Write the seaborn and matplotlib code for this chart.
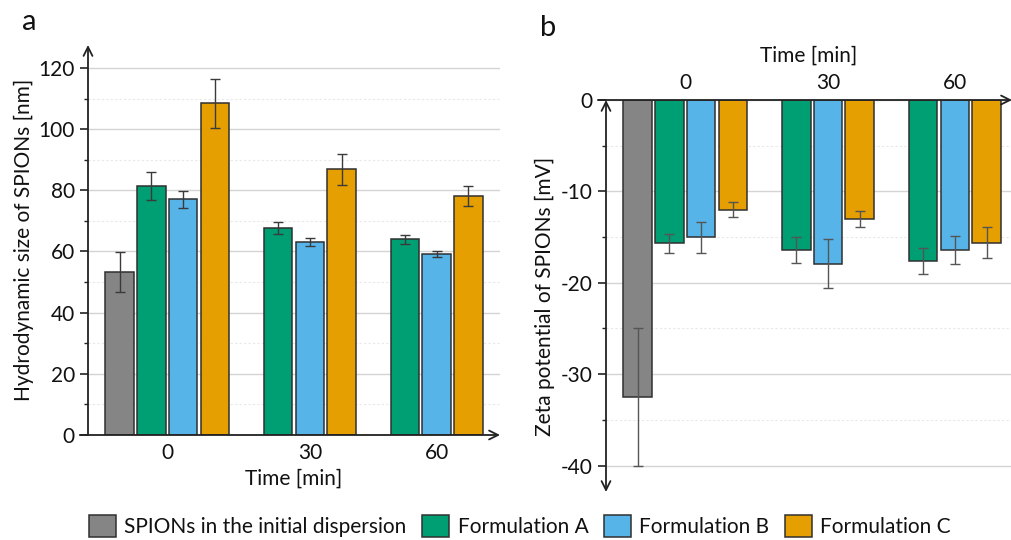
import numpy as np
import pandas as pd
import matplotlib
matplotlib.use("Agg")
import matplotlib.pyplot as plt
import seaborn as sns
from matplotlib.patches import Patch
from matplotlib.ticker import MultipleLocator

sns.set_theme(style="white")
plt.rcParams['font.family'] = ['Lato', 'DejaVu Sans']

# ---------------- data ----------------
times = ["0", "30", "60"]
series = ["SPIONs in the initial dispersion", "Formulation A", "Formulation B", "Formulation C"]
colors = ["#858585", "#009E73", "#56B4E9", "#E69F00"]

# hydrodynamic size [nm]  (None = not measured)
size_mean = {
    "SPIONs in the initial dispersion": [53.3, None, None],
    "Formulation A": [81.4, 67.6, 64.0],
    "Formulation B": [77.0, 63.0, 59.2],
    "Formulation C": [108.4, 86.9, 78.2],
}
size_err = {
    "SPIONs in the initial dispersion": [6.5, None, None],
    "Formulation A": [4.7, 2.0, 1.4],
    "Formulation B": [2.8, 1.3, 0.9],
    "Formulation C": [8.0, 5.1, 3.2],
}
# zeta potential [mV]
zeta_mean = {
    "SPIONs in the initial dispersion": [-32.5, None, None],
    "Formulation A": [-15.7, -16.4, -17.6],
    "Formulation B": [-15.0, -17.9, -16.4],
    "Formulation C": [-12.0, -13.0, -15.6],
}
zeta_err = {
    "SPIONs in the initial dispersion": [7.6, None, None],
    "Formulation A": [1.0, 1.4, 1.4],
    "Formulation B": [1.7, 2.7, 1.5],
    "Formulation C": [0.8, 0.9, 1.7],
}


def build(mean, err):
    rows = []
    for g, t in enumerate(times):
        for s, name in enumerate(series):
            m = mean[name][g]
            if m is None:
                continue
            rows.append(dict(time=t, series=name, pos=g * len(series) + s,
                             value=m, err=err[name][g]))
    return pd.DataFrame(rows)


df_size = build(size_mean, size_err)
df_zeta = build(zeta_mean, zeta_err)
palette = dict(zip(series, colors))

fig = plt.figure(figsize=(10.11, 5.40), dpi=100)
axA = fig.add_axes([88 / 1011, (540 - 435) / 540, 412 / 1011, 390 / 540])
axB = fig.add_axes([606 / 1011, (540 - 492) / 540, 406 / 1011, 392 / 540])

TXT = "#111111"
FS = 15


def draw(ax, df, ecolor):
    sns.barplot(data=df, x="pos", y="value", hue="series", palette=palette,
                hue_order=series, native_scale=True, dodge=False, width=0.9,
                saturation=1, edgecolor="#303030", linewidth=1.1, errorbar=None,
                legend=False, ax=ax, zorder=3)
    ax.errorbar(df["pos"], df["value"], yerr=df["err"], fmt="none",
                ecolor=ecolor, elinewidth=1.0, capsize=3.5, capthick=1.0, zorder=4)
    centers = df.groupby("time", sort=False)["pos"].mean()
    ax.set_xticks(centers.values)
    ax.set_xticklabels(centers.index, fontsize=FS, color=TXT)
    for sp in ax.spines.values():
        sp.set_visible(False)
    ax.tick_params(axis="x", length=0, pad=6)
    ax.tick_params(axis="y", which="major", length=6, width=1.2, color="#222222",
                   direction="out", labelsize=FS, labelcolor=TXT, left=True)
    ax.tick_params(axis="y", which="minor", length=3, width=1.0, color="#222222",
                   direction="out", left=True)
    ax.grid(False)
    ax.yaxis.grid(True, which="major", color="#d4d4d4", linewidth=1.0, zorder=0)
    ax.yaxis.grid(True, which="minor", color="#e8e8e8", linewidth=0.8,
                  linestyle=(0, (2, 2)), zorder=0)
    ax.set_axisbelow(True)


# ---------------- panel a ----------------
draw(axA, df_size, "#3a3a3a")
axA.set_xlim(-1, 12)
axA.set_ylim(0, 127.5)
axA.yaxis.set_major_locator(MultipleLocator(20))
axA.yaxis.set_minor_locator(MultipleLocator(10))
axA.set_xlabel("Time [min]", fontsize=FS, color=TXT, labelpad=4)
axA.set_ylabel("Hydrodynamic size of SPIONs [nm]", fontsize=FS, color=TXT, labelpad=3)
arrow = dict(arrowstyle="->", color="#222222", lw=1.3, mutation_scale=16,
             shrinkA=0, shrinkB=0)
axA.annotate("", xy=(0, 1), xytext=(0, 0), xycoords="axes fraction",
             arrowprops=arrow, annotation_clip=False, zorder=6)
axA.annotate("", xy=(1, 0), xytext=(-0.02, 0), xycoords="axes fraction",
             arrowprops=arrow, annotation_clip=False, zorder=6)

# ---------------- panel b ----------------
draw(axB, df_zeta, "#555555")
axB.set_xlim(-1, 11.8)
axB.set_ylim(-42.9, 0)
axB.yaxis.set_major_locator(MultipleLocator(10))
axB.yaxis.set_minor_locator(MultipleLocator(5))
axB.xaxis.set_ticks_position("top")
axB.xaxis.set_label_position("top")
axB.tick_params(axis="x", pad=5)
axB.set_xlabel("Time [min]", fontsize=FS, color=TXT, labelpad=8)
axB.set_ylabel("Zeta potential of SPIONs [mV]", fontsize=FS, color=TXT, labelpad=4)
axB.yaxis.set_major_formatter(matplotlib.ticker.FuncFormatter(lambda v, p: f"{v:.0f}".replace("\u2212", "-")))
arrow2 = dict(arrowstyle="<->", color="#222222", lw=1.3, mutation_scale=16,
              shrinkA=0, shrinkB=0)
axB.annotate("", xy=(0, 0), xytext=(0, 1), xycoords="axes fraction",
             arrowprops=arrow2, annotation_clip=False, zorder=6)
axB.annotate("", xy=(1, 1), xytext=(-0.02, 1), xycoords="axes fraction",
             arrowprops=arrow, annotation_clip=False, zorder=6)

# panel letters
fig.text(22 / 1011, 1 - 22 / 540, "a", fontsize=21, color=TXT, va="center", ha="left")
fig.text(540 / 1011, 1 - 28 / 540, "b", fontsize=21, color=TXT, va="center", ha="left")

# legend
handles = [Patch(facecolor=c, edgecolor="#303030", linewidth=1.1) for c in colors]
fig.legend(handles, series, loc="center", bbox_to_anchor=(520 / 1011, 14 / 540),
           ncol=4, frameon=False, fontsize=FS, handlelength=1.3, handleheight=1.3,
           handletextpad=0.4, columnspacing=0.75, labelcolor=TXT)

fig.savefig("out.png", dpi=100)
